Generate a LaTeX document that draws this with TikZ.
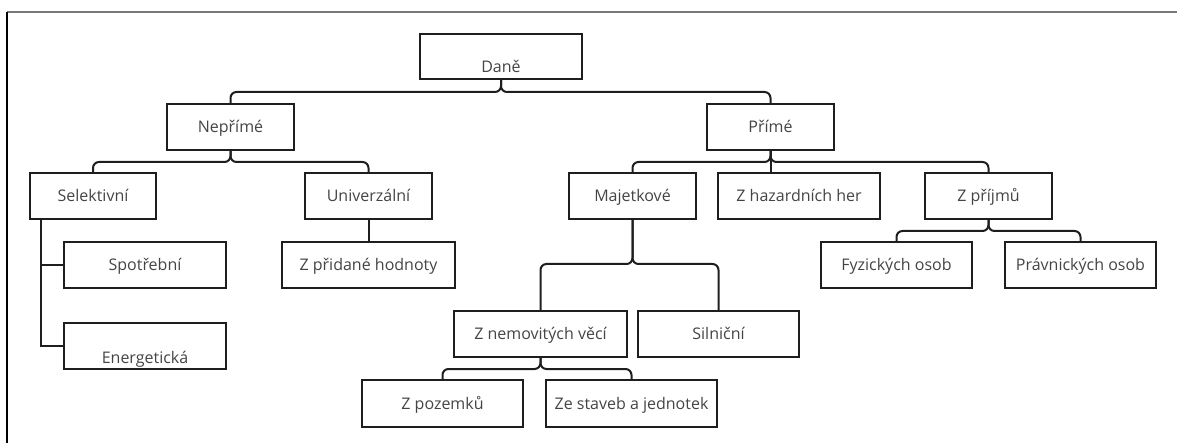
\documentclass[tikz,border=0pt]{standalone}
\usepackage{fontspec}
\setmainfont{Open Sans}
\usetikzlibrary{calc}
\definecolor{txt}{RGB}{68,68,68}
\definecolor{ln}{RGB}{30,30,30}
\definecolor{frametop}{RGB}{120,120,120}
\begin{document}
\begin{tikzpicture}[x=1pt,y=-1pt,
  box/.style={draw=ln, line width=2pt, rectangle, inner sep=0pt, text=txt,
    font=\fontsize{16}{19}\selectfont, text height=12pt, text depth=1pt},
  conn/.style={draw=ln, line width=2pt, rounded corners=6pt},
  conns/.style={draw=ln, line width=2pt}]
\useasboundingbox (0,0) rectangle (1177,443);
% frame
\draw[frametop, line width=1.3pt] (7,12) -- (1177,12);
\draw[black, line width=1.5pt] (7,12) -- (7,443);
% nodes
\node[box, minimum width=162pt, minimum height=45pt, text height=34pt] (dane) at (501,56.5) {Daně};
\node[box, minimum width=127pt, minimum height=46pt] (neprime) at (230.5,127) {Nepřímé};
\node[box, minimum width=127pt, minimum height=46pt] (prime) at (770.5,127) {Přímé};
\node[box, minimum width=126pt, minimum height=46pt] (sel) at (93,196) {Selektivní};
\node[box, minimum width=127pt, minimum height=46pt] (univ) at (368.5,196) {Univerzální};
\node[box, minimum width=127pt, minimum height=46pt] (maj) at (632.5,196) {Majetkové};
\node[box, minimum width=162pt, minimum height=46pt] (zhaz) at (799,196) {Z hazardních her};
\node[box, minimum width=127pt, minimum height=46pt] (zpri) at (988.5,196) {Z příjmů};
\node[box, minimum width=162pt, minimum height=46pt] (spot) at (145,265) {Spotřební};
\node[box, minimum width=173pt, minimum height=46pt] (zph) at (368.5,265) {Z přidané hodnoty};
\node[box, minimum width=151pt, minimum height=46pt] (fyz) at (896.5,265) {Fyzických osob};
\node[box, minimum width=151pt, minimum height=46pt] (prav) at (1080.5,265) {Právnických osob};
\node[box, minimum width=162pt, minimum height=46pt, text height=35pt] (energ) at (145,346) {Energetická};
\node[box, minimum width=173pt, minimum height=46pt] (znem) at (540.5,334) {Z nemovitých věcí};
\node[box, minimum width=161pt, minimum height=46pt] (siln) at (718.5,334) {Silniční};
\node[box, minimum width=161pt, minimum height=47pt] (zpoz) at (442.5,403.5) {Z pozemků};
\node[box, minimum width=171pt, minimum height=47pt] (zst) at (631.5,403.5) {Ze staveb a jednotek};
% connectors
\draw[conn] (dane.south) -- ++(0,12) -| (neprime.north);
\draw[conn] (dane.south) -- ++(0,12) -| (prime.north);
\draw[conn] (neprime.south) -- ++(0,11) -| (sel.north);
\draw[conn] (neprime.south) -- ++(0,11) -| (univ.north);
\draw[conn] (prime.south) -- ++(0,11) -| (maj.north);
\draw[conn] (prime.south) -- ++(0,11) -| (zpri.north);
\draw[conns] (prime.south) -- (prime.south |- zhaz.north);
\coordinate (selx) at ($(sel.south west)+(12,0)$);
\draw[conns] (selx) |- (spot.west);
\draw[conns] (selx) |- (energ.west);
\draw[conns] (univ.south) -- (zph.north);
\draw[conn] (maj.south) -- ++(0,44) -| (znem.north);
\draw[conn] (maj.south) -- ++(0,44) -| (siln.north);
\draw[conn] (zpri.south) -- ++(0,11) -| (fyz.north);
\draw[conn] (zpri.south) -- ++(0,11) -| (prav.north);
\draw[conn] (znem.south) -- ++(0,11) -| (zpoz.north);
\draw[conn] (znem.south) -- ++(0,11) -| (zst.north);
\end{tikzpicture}
\end{document}
